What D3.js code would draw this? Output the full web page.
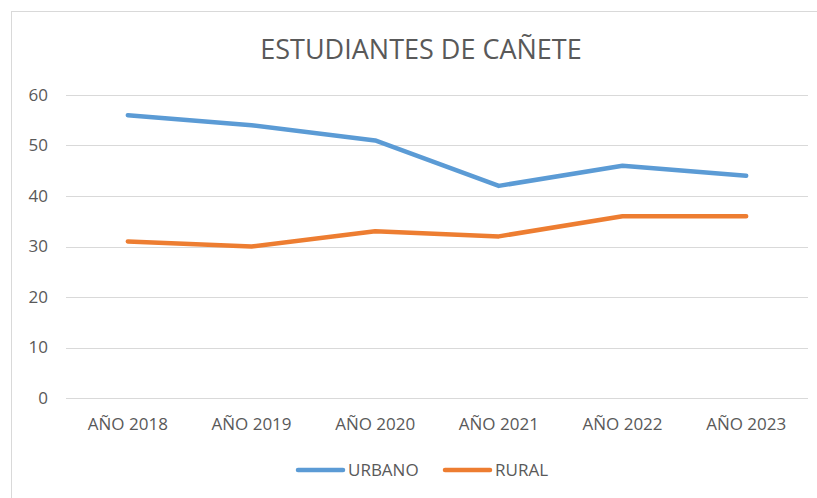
<!DOCTYPE html>
<html>
<head>
<meta charset="utf-8">
<script src="https://cdn.jsdelivr.net/npm/d3@7"></script>
<style>
  body { margin: 0; background: #fff; }
  svg text { font-family: "Open Sans", "Liberation Sans", sans-serif; fill: #595959; }
</style>
</head>
<body>
<div id="chart"></div>
<script>
const years = ["AÑO 2018", "AÑO 2019", "AÑO 2020", "AÑO 2021", "AÑO 2022", "AÑO 2023"];
const urbano = [56, 54, 51, 42, 46, 44];
const rural = [31, 30, 33, 32, 36, 36];
const yTicks = [0, 10, 20, 30, 40, 50, 60];
const seriesNames = ["URBANO", "RURAL"];
const colors = ["#5b9bd5", "#ed7d31"];

const W = 817, H = 498;
const margin = { top: 95, right: 9, bottom: 100, left: 66 };
const width = W - margin.left - margin.right;
const height = H - margin.top - margin.bottom;

const svg = d3.select("#chart").append("svg")
  .attr("width", W).attr("height", H);

// chart frame (cropped at right and bottom)
svg.append("rect")
  .attr("x", 11.5).attr("y", 11.5)
  .attr("width", W + 20).attr("height", H + 20)
  .attr("fill", "none").attr("stroke", "#d9d9d9");

svg.append("text")
  .attr("x", 421).attr("y", 59)
  .attr("text-anchor", "middle")
  .style("font-size", "27px")
  .text("ESTUDIANTES DE CAÑETE");

const g = svg.append("g").attr("transform", `translate(${margin.left},${margin.top})`);

const x = d3.scaleBand().domain(years).range([0, width]);
const y = d3.scaleLinear().domain([0, 60]).range([height, 0]);

// gridlines
g.append("g")
  .selectAll("line").data(yTicks).join("line")
  .attr("x1", 0).attr("x2", width)
  .attr("y1", d => Math.round(y(d)) + 0.5).attr("y2", d => Math.round(y(d)) + 0.5)
  .attr("stroke", "#d9d9d9").attr("stroke-width", 1);

const yAxis = g.append("g")
  .call(d3.axisLeft(y).tickValues(yTicks).tickSize(0).tickPadding(18));
yAxis.select(".domain").remove();
yAxis.selectAll("text").style("font-size", "17px").attr("fill", "#595959");

const xAxis = g.append("g").attr("transform", `translate(0,${height})`)
  .call(d3.axisBottom(x).tickSize(0).tickPadding(20));
xAxis.select(".domain").remove();
xAxis.selectAll("text").style("font-size", "17px").attr("fill", "#595959");

const line = d3.line()
  .x((d, i) => x(years[i]) + x.bandwidth() / 2)
  .y(d => y(d));

[urbano, rural].forEach((s, k) => {
  g.append("path").datum(s)
    .attr("fill", "none")
    .attr("stroke", colors[k])
    .attr("stroke-width", 4.5)
    .attr("stroke-linejoin", "round")
    .attr("stroke-linecap", "round")
    .attr("d", line);
});

// legend
const legendX = [298, 445];
const legend = svg.append("g");
seriesNames.forEach((name, k) => {
  legend.append("line")
    .attr("x1", legendX[k]).attr("x2", legendX[k] + 45)
    .attr("y1", 470).attr("y2", 470)
    .attr("stroke", colors[k]).attr("stroke-width", 4.5)
    .attr("stroke-linecap", "round");
  legend.append("text")
    .attr("x", legendX[k] + 50).attr("y", 476)
    .style("font-size", "17px")
    .text(name);
});
</script>
</body>
</html>
